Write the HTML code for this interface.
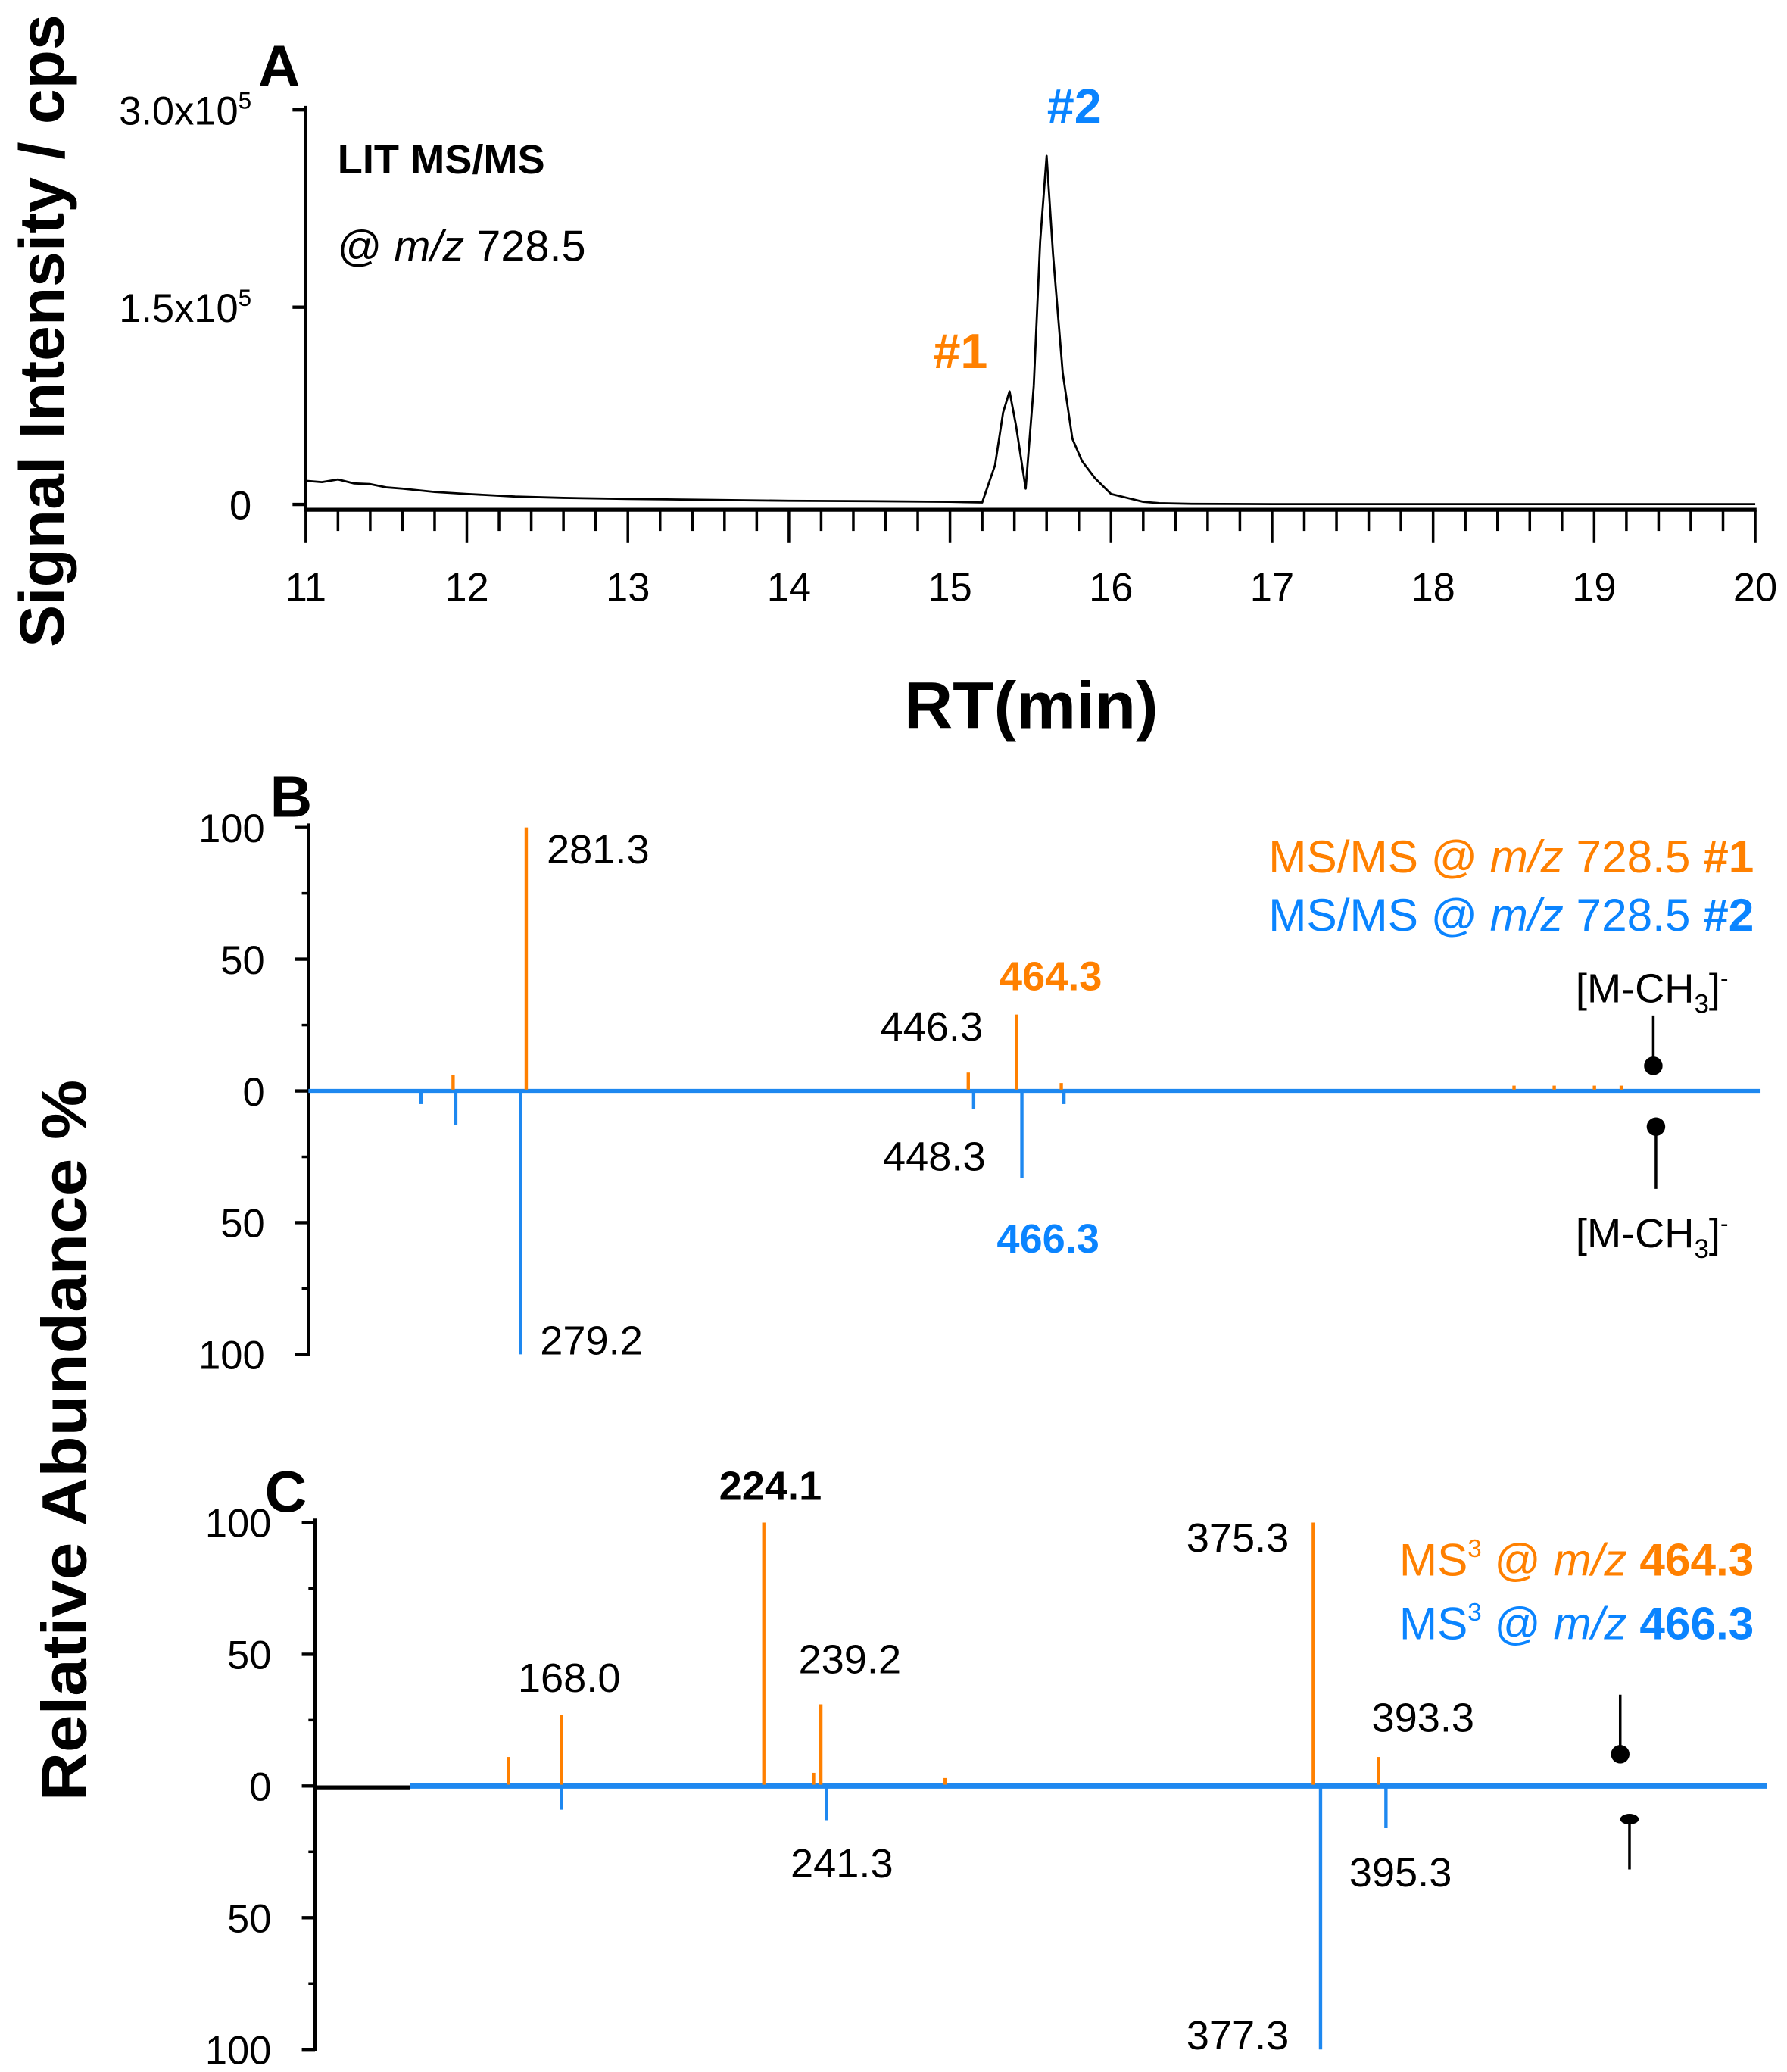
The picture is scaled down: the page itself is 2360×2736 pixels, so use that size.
<!DOCTYPE html>
<html><head><meta charset="utf-8"><style>
html,body{margin:0;padding:0;background:#fff}
svg{display:block;font-family:"Liberation Sans",Arial,sans-serif}
</style></head><body>
<svg id="fig" width="2360" height="2736" viewBox="0 0 1350 1565" xmlns="http://www.w3.org/2000/svg">
<g id="pa"></g>
<g id="pb"></g>
<g id="pc"></g>
<text transform="translate(48,250) rotate(-90)" text-anchor="middle" font-size="48" font-weight="bold" textLength="478" lengthAdjust="spacingAndGlyphs">Signal Intensity / cps</text>
<text transform="translate(65,1088) rotate(-90)" text-anchor="middle" font-size="48" font-weight="bold" textLength="545" lengthAdjust="spacingAndGlyphs">Relative Abundance %</text>
<text x="779" y="550" text-anchor="middle" font-size="50" font-weight="bold" textLength="192" lengthAdjust="spacingAndGlyphs">RT(min)</text>
<text x="195" y="65" font-size="44" font-weight="bold">A</text>
<text x="204" y="617" font-size="44" font-weight="bold">B</text>
<text x="200" y="1142" font-size="44" font-weight="bold">C</text>
<text x="255" y="131" font-size="31" font-weight="bold">LIT MS/MS</text>
<text x="255" y="197" font-size="33">@ <tspan font-style="italic">m/z</tspan> 728.5</text>
<text x="705" y="278" font-size="37" font-weight="bold" fill="#ff8000">#1</text>
<text x="791" y="93" font-size="37" font-weight="bold" fill="#0a84ff">#2</text>
<text x="1325" y="659" text-anchor="end" font-size="34.5" fill="#ff8000">MS/MS @ <tspan font-style="italic">m/z</tspan> 728.5 <tspan font-weight="bold">#1</tspan></text>
<text x="1325" y="703" text-anchor="end" font-size="34.5" fill="#0a84ff">MS/MS @ <tspan font-style="italic">m/z</tspan> 728.5 <tspan font-weight="bold">#2</tspan></text>
<text x="1325" y="1190" text-anchor="end" font-size="34.5" fill="#ff8000">MS<tspan font-size="19" dy="-14">3</tspan><tspan dy="14"> @ </tspan><tspan font-style="italic">m/z</tspan> <tspan font-weight="bold">464.3</tspan></text>
<text x="1325" y="1238" text-anchor="end" font-size="34.5" fill="#0a84ff">MS<tspan font-size="19" dy="-14">3</tspan><tspan dy="14"> @ </tspan><tspan font-style="italic">m/z</tspan> <tspan font-weight="bold">466.3</tspan></text>
<text x="1248" y="757" text-anchor="middle" font-size="31">[M-CH<tspan font-size="20" dy="8">3</tspan><tspan dy="-8">]</tspan><tspan font-size="18" dy="-12">-</tspan></text>
<text x="1248" y="942" text-anchor="middle" font-size="31">[M-CH<tspan font-size="20" dy="8">3</tspan><tspan dy="-8">]</tspan><tspan font-size="18" dy="-12">-</tspan></text>
</svg>
<script>
// ---------- Panel A data ----------
const rtTimes = [11,11.1,11.2,11.3,11.4,11.5,11.6,11.8,12,12.3,12.6,13,13.5,14,14.5,15,15.2,15.28,15.33,15.37,15.41,15.47,15.52,15.56,15.6,15.64,15.7,15.76,15.82,15.9,16,16.1,16.2,16.3,16.5,17,18,19,20];
const rtIntensity = [18000,17000,19000,16000,15500,13000,12000,9500,8000,6000,5000,4200,3500,2800,2500,2000,1500,30000,70000,86000,60000,12000,90000,200000,265000,190000,100000,50000,33000,20000,8000,5000,2000,1000,500,300,300,300,300];
const rtTicks = [11,12,13,14,15,16,17,18,19,20];
const intTicks = [0,150000,300000];
const intTickLabels = ["0","1.5x10<tspan font-size='18' dy='-12'>5</tspan>","3.0x10<tspan font-size='18' dy='-12'>5</tspan>"];
// ---------- Panel B data ----------
const bUpMz = [254,281.3,446.3,464.3,481,650,665,680,690];
const bUpVal = [6,100,7,29,3,2,2,2,2];
const bDownMz = [242,255,279.2,448.3,466.3,482];
const bDownVal = [5,13,100,7,33,5];
const bLabels = [["281.3",413,652,"#000","normal","start"],["464.3",755,748,"#ff8000","bold","start"],["446.3",665,786,"#000","normal","start"],["448.3",667,884,"#000","normal","start"],["466.3",753,946,"#0a84ff","bold","start"],["279.2",408,1023,"#000","normal","start"]];
// ---------- Panel C data ----------
const cUpMz = [153.8,168.4,224.1,237.8,239.8,274,375.3,393.3];
const cUpVal = [11,27,100,5,31,3,100,11];
const cDownMz = [168.4,241.3,377.3,395.3];
const cDownVal = [9,13,100,16];
const cLabels = [["224.1",582,1133,"bold","middle"],["168.0",430,1278,"normal","middle"],["239.2",642,1264,"normal","middle"],["375.3",935,1172,"normal","middle"],["393.3",1075,1308,"normal","middle"],["241.3",636,1418,"normal","middle"],["395.3",1058,1425,"normal","middle"],["377.3",935,1548,"normal","middle"]];
const yTickVals = [100,50,0,50,100];

const NS="http://www.w3.org/2000/svg";
function mk(parent,tag,attrs){const e=document.createElementNS(NS,tag);for(const k in attrs)e.setAttribute(k,attrs[k]);parent.appendChild(e);return e;}

// Panel A
const pa=document.getElementById('pa');
const ax=t=>231+(t-11)*(1326-231)/9;
const ay=v=>381-v*(381-83)/300000;
let l=mk(pa,'line',{x1:231,y1:80,x2:231,y2:386,stroke:'#000','stroke-width':2.5});

l=mk(pa,'line',{x1:230,y1:385,x2:1327,y2:385,stroke:'#000','stroke-width':3});

intTicks.forEach((v,i)=>{
  let t=mk(pa,'line',{x1:221,y1:ay(v),x2:231,y2:ay(v),stroke:'#000','stroke-width':2.5});
  
  let tx=mk(pa,'text',{x:190,y:ay(v)+11,'text-anchor':'end','font-size':30});
  tx.innerHTML=intTickLabels[i];
  
});
for(let k=0;k<=45;k++){const t=11+k*0.2;const major=k%5===0;
  let tk=mk(pa,'line',{x1:ax(t),y1:385,x2:ax(t),y2:major?410:401,stroke:'#000','stroke-width':2});
  }
rtTicks.forEach(t=>{let tx=mk(pa,'text',{x:ax(t),y:454,'text-anchor':'middle','font-size':30});tx.textContent=t;
  });
let p=mk(pa,'polyline',{points:rtTimes.map((t,i)=>ax(t)+','+ay(rtIntensity[i])).join(' '),fill:'none',stroke:'#000','stroke-width':1.6,'stroke-linejoin':'round'});


function spectrum(g,x0,x1,y0,yZero,y100,mzMin,mzMax,upMz,upVal,downMz,downVal,tag,blackStart){
  const sx=m=>x0+(m-mzMin)*(x1-x0)/(mzMax-mzMin);
  let a=mk(g,'line',{x1:x0,y1:y100-3,x2:x0,y2:yZero+100*(yZero-y100)/100+1,stroke:'#000','stroke-width':2.5});
  
  yTickVals.forEach((v,i)=>{const y=i<2?yZero-v*(yZero-y100)/100:yZero+v*(yZero-y100)/100;
    let t=mk(g,'line',{x1:x0-10,y1:y,x2:x0,y2:y,stroke:'#000','stroke-width':2.5});
    
    let tx=mk(g,'text',{x:x0-33,y:y+11,'text-anchor':'end','font-size':30});tx.textContent=v;
    });
  [75,25,-25,-75].forEach(v=>{const y=yZero-v*(yZero-y100)/100;
    let t=mk(g,'line',{x1:x0-5,y1:y,x2:x0,y2:y,stroke:'#000','stroke-width':2});
    });
  if(blackStart){let b=mk(g,'line',{x1:x0,y1:yZero+1,x2:blackStart,y2:yZero+1,stroke:'#000','stroke-width':3});
    }
  let base=mk(g,'line',{x1:blackStart||x0,y1:yZero,x2:x1,y2:yZero,stroke:'#1e88f0','stroke-width':blackStart?4:3});
  
  upMz.forEach((m,i)=>{let b=mk(g,'line',{x1:sx(m),y1:yZero-1,x2:sx(m),y2:yZero-upVal[i]*(yZero-y100)/100,stroke:'#ff8000','stroke-width':2.5});
    });
  downMz.forEach((m,i)=>{let b=mk(g,'line',{x1:sx(m),y1:yZero+1,x2:sx(m),y2:yZero+downVal[i]*(yZero-y100)/100,stroke:'#1e88f0','stroke-width':2.5});
    });
}
const pb=document.getElementById('pb');
spectrum(pb,233,1330,824,824,625,200,742,bUpMz,bUpVal,bDownMz,bDownVal,'b',0);
bLabels.forEach(d=>{let t=mk(pb,'text',{x:d[1],y:d[2],fill:d[3],'font-weight':d[4],'text-anchor':d[5],'font-size':31});t.textContent=d[0];
  });
[[1249,767,1249,805],[1251,898,1251,851]].forEach(m=>{let ln=mk(pb,'line',{x1:m[0],y1:m[1],x2:m[2],y2:m[3],stroke:'#000','stroke-width':2});
  
  let c=mk(pb,'ellipse',{cx:m[2],cy:m[3],rx:7,ry:7,fill:'#000'});});

const pc=document.getElementById('pc');
spectrum(pc,238,1335,1349,1349,1150,100.6,500.2,cUpMz,cUpVal,cDownMz,cDownVal,'c',310);
cLabels.forEach(d=>{let t=mk(pc,'text',{x:d[1],y:d[2],'font-weight':d[3],'text-anchor':d[4],'font-size':31});t.textContent=d[0];
  });
[[1224,1280,1224,1325],[1231,1412,1231,1374]].forEach(m=>{let ln=mk(pc,'line',{x1:m[0],y1:m[1],x2:m[2],y2:m[3],stroke:'#000','stroke-width':2});
  
  let c=mk(pc,'ellipse',{cx:m[2],cy:m[3],rx:7,ry:m[1]>m[3]?4:7,fill:'#000'});});
</script>
</body></html>
